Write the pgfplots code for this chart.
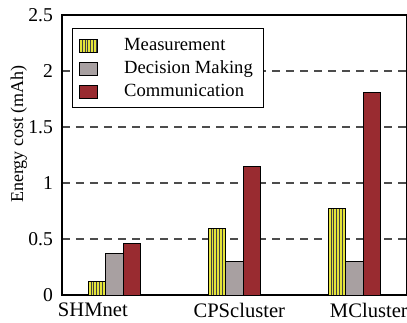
\documentclass[border=0pt]{standalone}
\usepackage{pgfplots}
\pgfplotsset{compat=1.18}
\usepackage{fontspec}
\setmainfont{Liberation Serif}
\usetikzlibrary{calc}

\definecolor{measyellow}{HTML}{E4E43A}
\definecolor{decgray}{HTML}{A8A0A1}
\definecolor{commred}{HTML}{992B30}

% vertical stripes clipped to the filled shape; the spacing divides the
% 60pt group pitch so every bar gets the same stripe phase
\tikzset{
  vstripes/.style={
    path picture={
      \pgfsetlinewidth{0.45pt}%
      \pgfsetstrokecolor{black!75}%
      \foreach \i in {0,...,#1} {%
        \pgfpathmoveto{\pgfpointadd{\pgfpointanchor{path picture bounding box}{south west}}{\pgfpoint{1.25pt+\i*1.3953pt}{0pt}}}%
        \pgfpathlineto{\pgfpointadd{\pgfpointanchor{path picture bounding box}{north west}}{\pgfpoint{1.25pt+\i*1.3953pt}{0pt}}}%
      }%
      \pgfusepath{stroke}%
    }
  }
}

\begin{document}
\begin{tikzpicture}
\begin{axis}[
  name=ax,
  width=172.5pt, height=140pt,
  scale only axis,
  xmin=-0.4375, xmax=2.4375,
  ymin=0, ymax=2.5,
  ytick={0,0.5,1,1.5,2,2.5},
  yticklabels={0,0.5,1,1.5,2,2.5},
  xtick={-0.18,1.04,2.12},
  xticklabels={SHMnet,CPScluster,MCluster},
  major tick length=0pt,
  ymajorgrids,
  y grid style={dash pattern=on 4pt off 3pt, line width=0.6pt, color=black!70},
  axis line style={line width=0.8pt},
  tick label style={/pgf/number format/assume math mode=true},
  yticklabel style={font=\fontsize{9.8}{11}\selectfont, xshift=-1pt},
  xticklabel style={font=\fontsize{10.3}{12}\selectfont, yshift=-0.5pt},
  ylabel={Energy cost (mAh)},
  ylabel style={font=\fontsize{9}{11}\selectfont, at={(axis description cs:-0.125,0.575)}, anchor=center},
  ybar=0pt,
  bar width=8.65pt,
  legend cell align=left,
  legend style={
    at={(axis description cs:0.029,0.954)}, anchor=north west,
    font=\fontsize{9.3}{11}\selectfont, text=black,
    draw=black, line width=0.6pt, fill=white,
    inner xsep=3.3pt, inner ysep=2pt,
    row sep=-0.4pt,
    /tikz/every odd column/.append style={column sep=11pt},
    % the leading empty row takes no room
    /tikz/row 1/.style={nodes={inner sep=0pt}},
  },
  legend image code/.code={\draw[#1, line width=0.5pt] (0pt,-3.25pt) rectangle (9pt,3.25pt);},
]
% empty lead-in row of the legend
\addlegendimage{empty legend}
\addplot[draw=black, line width=0.5pt, fill=measyellow, vstripes=92]
  coordinates {(0,0.125) (1,0.59) (2,0.77)};
\addplot[draw=black, line width=0.5pt, fill=decgray]
  coordinates {(0,0.375) (1,0.30) (2,0.30)};
\addplot[draw=black, line width=0.5pt, fill=commred]
  coordinates {(0,0.46) (1,1.15) (2,1.81)};
\legend{\mbox{},Measurement,Decision Making,Communication}
\end{axis}
\pgfresetboundingbox
\path[use as bounding box] ($(ax.south west)+(-31pt,-13.5pt)$) rectangle ($(ax.north east)+(0pt,7.5pt)$);
\end{tikzpicture}
\end{document}
